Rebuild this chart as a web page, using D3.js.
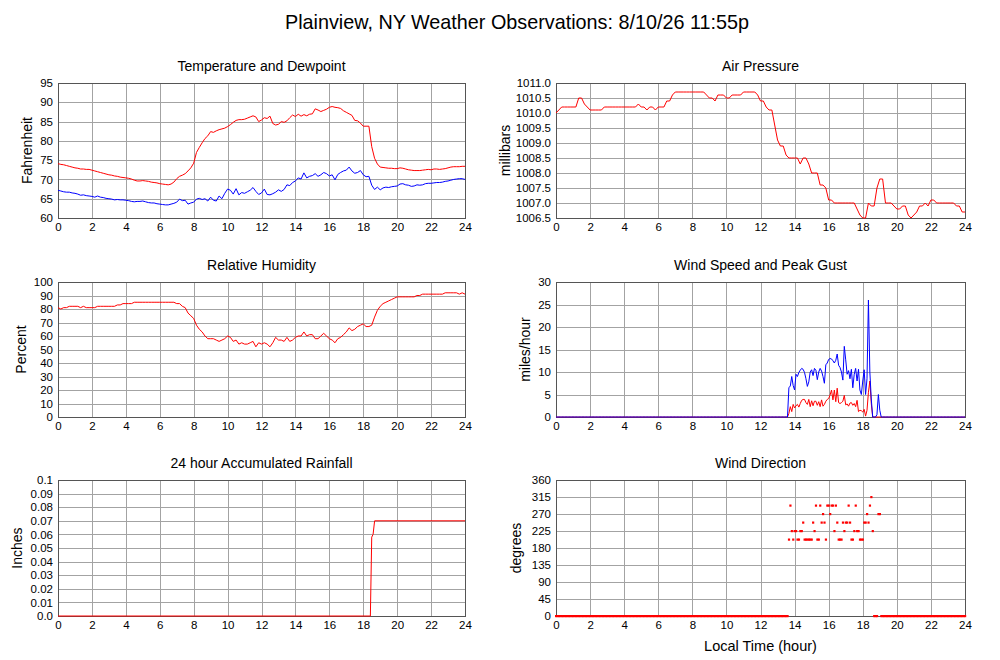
<!DOCTYPE html>
<html>
<head>
<meta charset="utf-8">
<script src="https://cdn.jsdelivr.net/npm/d3@7"></script>
<style>
  body { margin: 0; background: #fff; }
  text { font-family: "Liberation Sans", Arial, Helvetica, sans-serif; }
</style>
</head>
<body>
<svg id="c" width="1000" height="660"></svg>
<script>
// ---- data ----
const hourTicks = [0, 2, 4, 6, 8, 10, 12, 14, 16, 18, 20, 22, 24];

// 10 minute readings, one line per hour
const tenMin = 1 / 6;
const temperature = [
  74.1, 73.9, 73.8, 73.6, 73.4, 73.2,
  73.0, 72.9, 72.7, 72.7, 72.6, 72.6,
  72.4, 72.2, 72.0, 71.8, 71.6, 71.4,
  71.2, 71.1, 70.9, 70.8, 70.6, 70.5,
  70.4, 70.3, 70.1, 69.8, 69.6, 69.6,
  69.7, 69.6, 69.5, 69.3, 69.2, 69.1,
  68.9, 68.8, 68.7, 68.6, 68.8, 69.3,
  70.2, 70.8, 71.1, 71.5, 72.2, 73.0,
  74.2, 77.0, 78.3, 79.5, 80.6, 81.3,
  82.4, 82.2, 82.6, 82.9, 83.1, 83.3,
  83.7, 84.2, 84.8, 85.3, 85.5, 85.5,
  85.6, 85.9, 86.2, 86.5, 86.2, 85.0,
  85.4, 86.0, 85.8, 86.4, 84.5, 84.1,
  84.3, 85.0, 84.8, 85.2, 86.0, 86.7,
  86.3, 86.9, 86.4, 86.8, 86.5, 86.9,
  87.0, 88.3, 88.0, 87.6, 87.9, 88.2,
  88.7, 88.9, 88.7, 88.6, 88.4, 87.8,
  87.4, 87.0, 86.6, 85.3, 85.2, 84.6,
  83.8, 83.8, 83.8, 78.5, 75.5, 74.0,
  73.2, 73.1, 73.0, 72.9, 72.9, 72.8,
  72.8, 73.0, 72.9, 72.7, 72.5, 72.4,
  72.3, 72.3, 72.3, 72.4, 72.5, 72.6,
  72.5, 72.7, 72.7, 72.6, 72.7, 72.8,
  73.0, 73.2, 73.3, 73.3, 73.3, 73.4,
  73.4
];
const dewpoint = [
  67.2, 67.0, 66.8, 66.7, 66.7, 66.5,
  66.4, 66.2, 65.9, 66.0, 65.8, 65.7,
  65.6, 65.4, 65.7, 65.4, 65.3, 65.1,
  65.0, 64.9, 64.7, 64.8, 64.7, 64.7,
  64.6, 64.5, 64.3, 64.2, 64.3, 64.3,
  64.4, 64.2, 64.0, 63.9, 63.9, 63.7,
  63.6, 63.5, 63.4, 63.4, 63.6, 63.8,
  64.1, 64.9, 64.5, 64.6, 63.6, 63.9,
  64.1, 64.9, 65.1, 64.8, 65.0, 64.4,
  65.4, 64.6, 64.4, 65.7, 65.0, 66.4,
  67.5, 67.2, 66.2, 67.6, 66.0, 66.6,
  66.4, 66.8, 67.2, 67.9, 66.9, 66.1,
  66.5, 67.5, 66.1, 66.0, 66.3, 66.7,
  67.3, 66.9, 67.4, 68.6, 68.4, 69.2,
  69.6, 70.4, 70.1, 71.7, 70.4, 70.8,
  71.0, 71.5, 70.8, 71.2, 71.8, 71.5,
  70.9, 71.2, 69.9, 71.3, 71.8, 72.2,
  72.4, 73.2, 72.2, 71.6, 71.8, 72.3,
  71.2, 70.7, 70.8, 68.5, 67.4, 68.0,
  67.3, 67.8, 68.0, 67.9, 68.1, 68.2,
  68.3, 68.8, 68.9, 68.6, 68.5, 68.2,
  68.3, 68.6, 68.5, 68.6, 68.9, 69.0,
  69.0, 69.1, 69.2, 69.2, 69.3, 69.5,
  69.6, 69.8, 70.0, 70.1, 70.2, 70.2,
  70.0
];
const pressure = [
  1010.0, 1010.1, 1010.2, 1010.2, 1010.2, 1010.2,
  1010.2, 1010.2, 1010.5, 1010.5, 1010.3, 1010.2,
  1010.1, 1010.1, 1010.1, 1010.1, 1010.1, 1010.2,
  1010.2, 1010.2, 1010.2, 1010.2, 1010.2, 1010.2,
  1010.2, 1010.2, 1010.2, 1010.2, 1010.2, 1010.3,
  1010.2, 1010.2, 1010.1, 1010.2, 1010.2, 1010.1,
  1010.2, 1010.2, 1010.2, 1010.4, 1010.4, 1010.6,
  1010.7, 1010.7, 1010.7, 1010.7, 1010.7, 1010.7,
  1010.7, 1010.7, 1010.7, 1010.7, 1010.7, 1010.6,
  1010.5, 1010.5, 1010.4, 1010.6, 1010.6, 1010.6,
  1010.5, 1010.5, 1010.6, 1010.6, 1010.6, 1010.6,
  1010.7, 1010.7, 1010.7, 1010.7, 1010.7, 1010.6,
  1010.4, 1010.4, 1010.2, 1010.1, 1010.1, 1009.6,
  1009.1, 1008.9, 1008.9, 1008.6, 1008.5, 1008.5,
  1008.5, 1008.5, 1008.3, 1008.5, 1008.5, 1008.3,
  1008.0, 1008.0, 1008.0, 1007.6, 1007.6, 1007.5,
  1007.1, 1007.1, 1007.0, 1007.0, 1007.0, 1007.0,
  1007.0, 1007.0, 1007.0, 1007.0, 1006.8, 1006.6,
  1006.5, 1006.5, 1007.0, 1006.9, 1006.9, 1007.5,
  1007.8, 1007.8, 1007.0, 1007.0, 1007.0, 1006.9,
  1006.8, 1006.8, 1006.9, 1006.9, 1006.6, 1006.5,
  1006.6, 1006.7, 1006.9, 1006.9, 1007.0, 1006.9,
  1007.1, 1007.1, 1007.0, 1007.0, 1007.0, 1007.0,
  1007.0, 1007.0, 1007.0, 1006.9, 1006.9, 1006.7,
  1006.7
];
const humidity = [
  81, 80, 81, 81, 82, 82,
  82, 82, 81, 82, 81, 81,
  81, 81, 82, 82, 82, 82,
  82, 82, 82, 83, 83, 84,
  84, 84, 84, 85, 85, 85,
  85, 85, 85, 85, 85, 85,
  85, 85, 85, 85, 85, 85,
  84, 84, 82, 81, 77, 75,
  73, 68, 65, 63, 60, 58,
  58, 58, 57, 56, 57, 58,
  60, 59, 56, 57, 54, 55,
  54, 54, 55, 56, 52, 55,
  54, 55, 54, 52, 55, 59,
  57, 57, 56, 59, 56, 57,
  59, 60, 60, 63, 60, 61,
  61, 58, 58, 60, 62, 60,
  58, 57, 55, 58, 59, 61,
  63, 66, 64, 65, 67, 68,
  69, 67, 67, 68, 74, 79,
  82, 84, 85, 86, 87, 88,
  89, 89, 89, 89, 89, 89,
  89, 90, 90, 91, 91, 91,
  91, 91, 91, 91, 91, 92,
  92, 92, 92, 92, 91, 92,
  91
];

// rain gauge readings [hour, inches]
const rainfall = [
  [0, 0], [18.42, 0], [18.5, 0.058], [18.58, 0.06], [18.67, 0.07], [24, 0.07]
];

// 5 minute readings, one line per hour
const fiveMin = 1 / 12;
const windSpeed = [
  0, 0, 0, 0, 0, 0, 0, 0, 0, 0, 0, 0,
  0, 0, 0, 0, 0, 0, 0, 0, 0, 0, 0, 0,
  0, 0, 0, 0, 0, 0, 0, 0, 0, 0, 0, 0,
  0, 0, 0, 0, 0, 0, 0, 0, 0, 0, 0, 0,
  0, 0, 0, 0, 0, 0, 0, 0, 0, 0, 0, 0,
  0, 0, 0, 0, 0, 0, 0, 0, 0, 0, 0, 0,
  0, 0, 0, 0, 0, 0, 0, 0, 0, 0, 0, 0,
  0, 0, 0, 0, 0, 0, 0, 0, 0, 0, 0, 0,
  0, 0, 0, 0, 0, 0, 0, 0, 0, 0, 0, 0,
  0, 0, 0, 0, 0, 0, 0, 0, 0, 0, 0, 0,
  0, 0, 0, 0, 0, 0, 0, 0, 0, 0, 0, 0,
  0, 0, 0, 0, 0, 0, 0, 0, 0, 0, 0, 0,
  0, 0, 0, 0, 0, 0, 0, 0, 0, 0, 0, 0,
  0, 0, 0, 0, 0, 0, 0, 0, 0.8, 2.3, 1.2, 2.8,
  2, 2.5, 2.8, 2.2, 3, 3.7, 3.9, 3.9, 3.2, 2.8, 3.9, 2.3,
  3.6, 2.5, 3.5, 3.5, 2.6, 3.4, 2.3, 3.8, 2.4, 2.8, 3.5, 3.9,
  4.1, 4.9, 6, 3.8, 6, 3.4, 6.4, 3.2, 3, 3.2, 3.5, 4.8,
  2.7, 2.9, 2.4, 3.1, 3.2, 2.6, 3, 2.3, 3.7, 1.2, 1.5, 1.4,
  1.1, 1.7, 0.2, 1.5, 5.5, 8, 3, 0, 0, 0, 0, 0,
  0, 0, 0, 0, 0, 0, 0, 0, 0, 0, 0, 0,
  0, 0, 0, 0, 0, 0, 0, 0, 0, 0, 0, 0,
  0, 0, 0, 0, 0, 0, 0, 0, 0, 0, 0, 0,
  0, 0, 0, 0, 0, 0, 0, 0, 0, 0, 0, 0,
  0, 0, 0, 0, 0, 0, 0, 0, 0, 0, 0, 0,
  0
];
const peakGust = [
  0, 0, 0, 0, 0, 0, 0, 0, 0, 0, 0, 0,
  0, 0, 0, 0, 0, 0, 0, 0, 0, 0, 0, 0,
  0, 0, 0, 0, 0, 0, 0, 0, 0, 0, 0, 0,
  0, 0, 0, 0, 0, 0, 0, 0, 0, 0, 0, 0,
  0, 0, 0, 0, 0, 0, 0, 0, 0, 0, 0, 0,
  0, 0, 0, 0, 0, 0, 0, 0, 0, 0, 0, 0,
  0, 0, 0, 0, 0, 0, 0, 0, 0, 0, 0, 0,
  0, 0, 0, 0, 0, 0, 0, 0, 0, 0, 0, 0,
  0, 0, 0, 0, 0, 0, 0, 0, 0, 0, 0, 0,
  0, 0, 0, 0, 0, 0, 0, 0, 0, 0, 0, 0,
  0, 0, 0, 0, 0, 0, 0, 0, 0, 0, 0, 0,
  0, 0, 0, 0, 0, 0, 0, 0, 0, 0, 0, 0,
  0, 0, 0, 0, 0, 0, 0, 0, 0, 0, 0, 0,
  0, 0, 0, 0, 0, 0, 0, 0, 6.5, 6.9, 9, 7,
  6, 9.5, 9, 9.9, 10.4, 10.8, 10.6, 9.9, 8.5, 6.8, 7.8, 10,
  10.5, 9.2, 10.8, 10.4, 8.3, 10, 10.8, 10.2, 9, 7.5, 11.6, 12,
  12.8, 13, 12.9, 12.5, 12, 12.6, 14, 11.5, 11, 10, 8.2, 15.7,
  12.7, 9.5, 10.3, 8.5, 10.6, 6.5, 9.5, 10.8, 8, 10.6, 6, 5,
  8, 10.5, 5, 8.5, 26, 10, 4, 0, 0, 0, 0.5, 5,
  1.5, 0, 0, 0, 0, 0, 0, 0, 0, 0, 0, 0,
  0, 0, 0, 0, 0, 0, 0, 0, 0, 0, 0, 0,
  0, 0, 0, 0, 0, 0, 0, 0, 0, 0, 0, 0,
  0, 0, 0, 0, 0, 0, 0, 0, 0, 0, 0, 0,
  0, 0, 0, 0, 0, 0, 0, 0, 0, 0, 0, 0,
  0
];
const windDir = [
  0, 0, 0, 0, 0, 0, 0, 0, 0, 0, 0, 0,
  0, 0, 0, 0, 0, 0, 0, 0, 0, 0, 0, 0,
  0, 0, 0, 0, 0, 0, 0, 0, 0, 0, 0, 0,
  0, 0, 0, 0, 0, 0, 0, 0, 0, 0, 0, 0,
  0, 0, 0, 0, 0, 0, 0, 0, 0, 0, 0, 0,
  0, 0, 0, 0, 0, 0, 0, 0, 0, 0, 0, 0,
  0, 0, 0, 0, 0, 0, 0, 0, 0, 0, 0, 0,
  0, 0, 0, 0, 0, 0, 0, 0, 0, 0, 0, 0,
  0, 0, 0, 0, 0, 0, 0, 0, 0, 0, 0, 0,
  0, 0, 0, 0, 0, 0, 0, 0, 0, 0, 0, 0,
  0, 0, 0, 0, 0, 0, 0, 0, 0, 0, 0, 0,
  0, 0, 0, 0, 0, 0, 0, 0, 0, 0, 0, 0,
  0, 0, 0, 0, 0, 0, 0, 0, 0, 0, 0, 0,
  0, 0, 0, 0, 0, 0, 0, 0, 202.5, 292.5, 225, 202.5,
  225, 225, 202.5, 202.5, 225, 225, 247.5, 202.5, 202.5, 202.5, 202.5, 202.5,
  202.5, 247.5, 225, 292.5, 202.5, 202.5, 292.5, 247.5, 270, 247.5, 202.5, 292.5,
  292.5, 270, 292.5, 292.5, 225, 292.5, 247.5, 202.5, 202.5, 202.5, 247.5, 225,
  247.5, 247.5, 292.5, 247.5, 202.5, 202.5, 225, 292.5, 225, 225, 202.5, 202.5,
  202.5, 247.5, 247.5, 270, 247.5, 292.5, 315, 225, 0, 0, 0, 270,
  270, 0, 0, 0, 0, 0, 0, 0, 0, 0, 0, 0,
  0, 0, 0, 0, 0, 0, 0, 0, 0, 0, 0, 0,
  0, 0, 0, 0, 0, 0, 0, 0, 0, 0, 0, 0,
  0, 0, 0, 0, 0, 0, 0, 0, 0, 0, 0, 0,
  0, 0, 0, 0, 0, 0, 0, 0, 0, 0, 0, 0,
  0
];

const tempTicks = [60, 65, 70, 75, 80, 85, 90, 95];
const pressTicks = [1006.5, 1007, 1007.5, 1008, 1008.5, 1009, 1009.5, 1010, 1010.5, 1011];
const humTicks = [0, 10, 20, 30, 40, 50, 60, 70, 80, 90, 100];
const windTicks = [0, 5, 10, 15, 20, 25, 30];
const rainTicks = [0, 0.01, 0.02, 0.03, 0.04, 0.05, 0.06, 0.07, 0.08, 0.09, 0.1];
const rainLabels = ['0.0', '0.01', '0.02', '0.03', '0.04', '0.05', '0.06', '0.07', '0.08', '0.09', '0.1'];
const dirTicks = [0, 45, 90, 135, 180, 225, 270, 315, 360];

// ---- drawing ----
const svg = d3.select('#c');

svg.append('text')
  .attr('x', 517).attr('y', 29)
  .attr('text-anchor', 'middle')
  .attr('font-size', 19.8)
  .text('Plainview, NY Weather Observations: 8/10/26 11:55p');

function panel(p) {
  const x = d3.scaleLinear().domain([0, 24]).range([p.left, p.left + p.w]);
  const y = d3.scaleLinear().domain([p.ticks[0], p.ticks[p.ticks.length - 1]]).range([p.top + p.h, p.top]);
  const g = svg.append('g');

  // grid
  const gx = g.append('g').attr('transform', `translate(0,${p.top + p.h})`)
    .call(d3.axisBottom(x).tickValues(hourTicks).tickSize(-p.h).tickFormat(''));
  const gy = g.append('g').attr('transform', `translate(${p.left},0)`)
    .call(d3.axisLeft(y).tickValues(p.ticks).tickSize(-p.w).tickFormat(''));
  [gx, gy].forEach(a => {
    a.select('.domain').remove();
    a.selectAll('line').attr('stroke', '#a3a3a3').attr('shape-rendering', 'crispEdges');
  });

  g.append('rect')
    .attr('x', p.left + 0.5).attr('y', p.top + 0.5)
    .attr('width', p.w).attr('height', p.h)
    .attr('fill', 'none').attr('stroke', '#555').attr('shape-rendering', 'crispEdges');

  // tick labels
  const ly = g.append('g').attr('transform', `translate(${p.left},0)`)
    .call(d3.axisLeft(y).tickValues(p.ticks).tickSize(0).tickPadding(5)
      .tickFormat((d, i) => p.labels ? p.labels[i] : d3.format(p.fmt || 'd')(d)));
  const lx = g.append('g').attr('transform', `translate(0,${p.top + p.h})`)
    .call(d3.axisBottom(x).tickValues(hourTicks).tickSize(0).tickPadding(5));
  [lx, ly].forEach(a => {
    a.select('.domain').remove();
    a.attr('font-family', null).attr('font-size', 11.5);
    a.selectAll('text').attr('fill', '#000');
  });

  g.append('text')
    .attr('x', p.left + p.w / 2).attr('y', p.top - 12)
    .attr('text-anchor', 'middle').attr('font-size', 14)
    .text(p.title);

  // y title: baseline sits right of the glyph centre, hence the +5
  g.append('text')
    .attr('transform', `translate(${p.left - p.labelGap + 5},${p.top + p.h / 2}) rotate(-90)`)
    .attr('text-anchor', 'middle').attr('font-size', 14)
    .text(p.ylabel);

  return { x, y, g };
}

function drawLine(pn, values, step, color) {
  const line = d3.line().x((d, i) => pn.x(i * step)).y(d => pn.y(d));
  pn.g.append('path').datum(values)
    .attr('d', line)
    .attr('fill', 'none').attr('stroke', color).attr('stroke-width', 1);
}

const L = 58, R = 556, LW = 407, RW = 409;

const pTemp = panel({ left: L, top: 83, w: LW, h: 135, ticks: tempTicks,
  title: 'Temperature and Dewpoint', ylabel: 'Fahrenheit', labelGap: 31 });
drawLine(pTemp, temperature, tenMin, '#ff0000');
drawLine(pTemp, dewpoint, tenMin, '#0000ff');

const pPress = panel({ left: R, top: 83, w: RW, h: 135, ticks: pressTicks, fmt: '.1f',
  title: 'Air Pressure', ylabel: 'millibars', labelGap: 51 });
drawLine(pPress, pressure, tenMin, '#ff0000');

const pHum = panel({ left: L, top: 282, w: LW, h: 135, ticks: humTicks,
  title: 'Relative Humidity', ylabel: 'Percent', labelGap: 37 });
drawLine(pHum, humidity, tenMin, '#ff0000');

const pWind = panel({ left: R, top: 282, w: RW, h: 135, ticks: windTicks,
  title: 'Wind Speed and Peak Gust', ylabel: 'miles/hour', labelGap: 31 });
drawLine(pWind, windSpeed, fiveMin, '#ff0000');
drawLine(pWind, peakGust, fiveMin, '#0000ff');

const pRain = panel({ left: L, top: 480, w: LW, h: 136, ticks: rainTicks, labels: rainLabels,
  title: '24 hour Accumulated Rainfall', ylabel: 'Inches', labelGap: 41 });
pRain.g.append('path').datum(rainfall)
  .attr('d', d3.line().x(d => pRain.x(d[0])).y(d => pRain.y(d[1])))
  .attr('fill', 'none').attr('stroke', '#ff0000').attr('stroke-width', 1);

const pDir = panel({ left: R, top: 480, w: RW, h: 136, ticks: dirTicks,
  title: 'Wind Direction', ylabel: 'degrees', labelGap: 40 });
pDir.g.append('g').selectAll('rect').data(windDir).join('rect')
  .attr('x', (d, i) => pDir.x(i * fiveMin) - 1)
  .attr('y', d => pDir.y(d) - 1)
  .attr('width', 2.2).attr('height', 2.2)
  .attr('fill', '#ff0000');

svg.append('text')
  .attr('x', R + RW / 2).attr('y', 651)
  .attr('text-anchor', 'middle').attr('font-size', 14.5)
  .text('Local Time (hour)');
</script>
</body>
</html>
